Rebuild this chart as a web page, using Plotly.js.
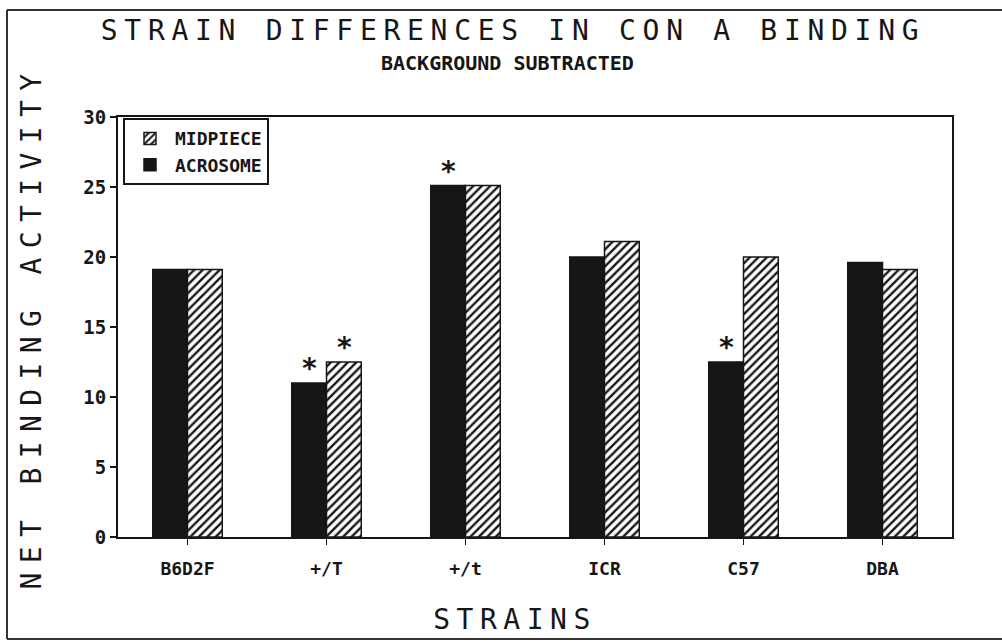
<!DOCTYPE html>
<html>
<head>
<meta charset="utf-8">
<script src="https://cdn.plot.ly/plotly-3.0.1.min.js"></script>
<style>
  html, body { margin: 0; padding: 0; background: #fff; }
  #chart { width: 1002px; height: 642px; }
  .gtitle { letter-spacing: 6.7px; }
  .xtitle { letter-spacing: 6.5px; transform: translate(-20px, 2px); }
  .ytitle { letter-spacing: 9.4px; }
</style>
</head>
<body>
<div id="chart"></div>
<script>
// ---- data ----
const strains   = ['B6D2F', '+/T', '+/t', 'ICR', 'C57', 'DBA'];
const acrosome  = [19.1, 11, 25.1, 20, 12.5, 19.6];
const midpiece  = [19.1, 12.5, 25.1, 21.1, 20, 19.1];
const seriesNames = ['ACROSOME', 'MIDPIECE'];
// significance markers (*): which strain and which series
const starStrains = ['+/T', '+/T', '+/t', 'C57'];
const starSeries  = ['ACROSOME', 'MIDPIECE', 'ACROSOME', 'ACROSOME'];

const titleText = 'STRAIN DIFFERENCES IN CON A BINDING';
const subtitleText = 'BACKGROUND SUBTRACTED';
const xTitle = 'STRAINS';
const yTitle = 'NET BINDING ACTIVITY';
const yTicks = [0, 5, 10, 15, 20, 25, 30];

// ---- styling ----
const INK = '#161616';
const plotterFont = 'DejaVu Sans Mono, monospace';
const labelFont = 'DejaVu Sans Mono, monospace';

const traces = [
  {
    type: 'bar', name: seriesNames[0], x: strains, y: acrosome,
    marker: { color: INK, line: { color: INK, width: 1.5 } }
  },
  {
    type: 'bar', name: seriesNames[1], x: strains, y: midpiece,
    marker: {
      color: '#ffffff',
      line: { color: INK, width: 1.5 },
      pattern: { shape: '/', fgcolor: INK, bgcolor: '#ffffff', size: 6, solidity: 0.4 }
    }
  }
];

const seriesValues = { 'ACROSOME': acrosome, 'MIDPIECE': midpiece };
const annotations = starStrains.map((s, i) => {
  const idx = strains.indexOf(s);
  const ser = starSeries[i];
  return {
    x: s, y: seriesValues[ser][idx], xref: 'x', yref: 'y',
    text: '*', showarrow: false, yanchor: 'bottom',
    xshift: ser === 'ACROSOME' ? -17.5 : 17.5, yshift: -4,
    font: { family: plotterFont, size: 28, color: INK, weight: 'bold' }
  };
});
annotations.push({
  text: subtitleText, showarrow: false, xref: 'paper', yref: 'paper',
  x: 0.4668, y: 1.1286, xanchor: 'center', yanchor: 'middle',
  font: { family: labelFont, size: 20, color: INK, weight: 'bold' }
});

const layout = {
  width: 1002, height: 642,
  paper_bgcolor: '#ffffff', plot_bgcolor: '#ffffff',
  margin: { l: 118, r: 50, t: 117, b: 105 },
  title: {
    text: titleText, xref: 'container', x: 0.512, xanchor: 'center',
    yref: 'container', y: 0.953, yanchor: 'middle',
    font: { family: plotterFont, size: 28, color: INK }
  },
  barmode: 'group', bargap: 0.5, bargroupgap: 0,
  showlegend: true,
  legend: {
    x: 0.006, y: 0.997, xanchor: 'left', yanchor: 'top',
    traceorder: 'reversed', bgcolor: '#ffffff',
    bordercolor: INK, borderwidth: 2,
    font: { family: labelFont, size: 18, color: INK, weight: 'bold' },
    itemwidth: 40
  },
  xaxis: {
    type: 'category', range: [-0.5, 5.5],
    showline: true, mirror: true, linecolor: INK, linewidth: 2,
    ticks: 'outside', ticklen: 6, tickwidth: 1.5, tickcolor: INK,
    ticklabelstandoff: 8,
    tickfont: { family: labelFont, size: 18, color: INK, weight: 'bold' },
    showgrid: false, zeroline: false,
    title: { text: xTitle, standoff: 30, font: { family: plotterFont, size: 28, color: INK } }
  },
  yaxis: {
    range: [0, 30], tickmode: 'array', tickvals: yTicks, ticktext: yTicks.map(String),
    showline: true, mirror: true, linecolor: INK, linewidth: 2,
    ticks: 'outside', ticklen: 6, tickwidth: 1.5, tickcolor: INK,
    tickfont: { family: labelFont, size: 19, color: INK, weight: 'bold' },
    showgrid: false, zeroline: false,
    title: { text: yTitle, standoff: 34, font: { family: plotterFont, size: 28, color: INK } }
  },
  annotations: annotations,
  shapes: [
    // outer frame of the figure
    { type: 'line', xref: 'paper', yref: 'paper', x0: -0.1331, x1: 1.07, y0: 1.2548, y1: 1.2548, line: { color: '#333', width: 2 } },
    { type: 'line', xref: 'paper', yref: 'paper', x0: -0.1331, x1: -0.1331, y0: 1.2548, y1: -0.2429, line: { color: '#333', width: 2 } },
    { type: 'line', xref: 'paper', yref: 'paper', x0: -0.1331, x1: 1.07, y0: -0.2429, y1: -0.2429, line: { color: '#333', width: 2 } }
  ]
};

Plotly.newPlot('chart', traces, layout, { displayModeBar: false, staticPlot: true });
</script>
</body>
</html>
